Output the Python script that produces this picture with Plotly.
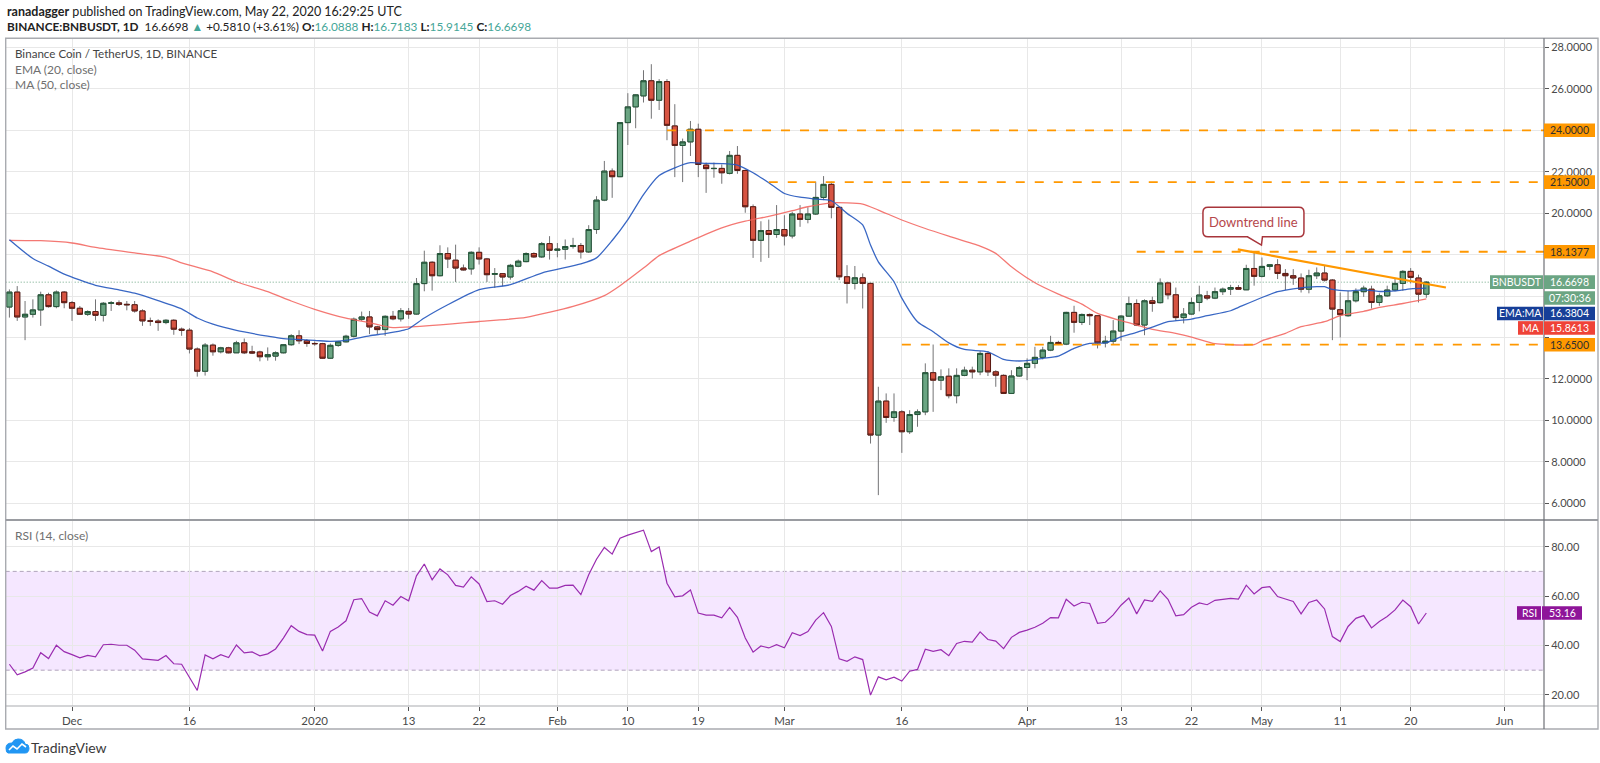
import plotly.graph_objects as go
import pandas as pd

# ---------------- data ----------------
first_day = "2019-11-23"

opens = [15.47, 16.19, 14.99, 15.12, 15.33, 16.06, 15.49, 16.19,
         15.68, 15.41, 15.12, 15.25, 15.07, 15.65, 15.67, 15.60, 15.58, 15.28, 14.80, 14.79, 14.72, 14.83, 14.40, 14.35, 13.44, 12.37, 13.63, 13.31, 13.50, 13.26, 13.74, 13.31, 13.30, 13.07, 13.10, 13.26, 13.65, 14.08, 13.84,
         13.71, 13.70, 13.00, 13.62, 13.79, 14.06, 14.88, 14.99, 14.51, 14.38, 15.02, 14.90, 15.26, 15.13, 16.60, 17.63, 16.98, 18.05, 17.73, 17.35, 17.31, 18.11, 17.79, 17.05, 17.08, 16.92, 17.44, 17.66, 18.05, 17.89, 18.53,
         18.21, 18.26, 18.39, 18.44, 18.13, 19.21, 20.63, 22.03, 21.76, 24.37, 25.13, 25.66, 26.39, 25.45, 26.35, 24.21, 23.27, 23.44, 24.05, 22.32, 22.15, 22.16, 21.92, 22.79, 22.06, 20.31, 18.69, 19.16, 18.97,
         19.21, 18.90, 19.96, 19.70, 19.96, 20.76, 21.39, 20.28, 16.93, 16.61, 16.88, 16.61, 9.29, 10.93, 10.14, 10.41, 9.45, 10.28, 10.41, 12.30, 11.94, 12.13, 11.19, 12.17, 12.42, 12.34, 13.23, 12.34, 12.17, 11.30, 12.14,
         12.55, 12.75, 13.04, 13.39, 13.76, 13.68, 15.21, 14.73, 15.11, 15.05, 13.74, 13.82, 14.31, 15.03, 15.64, 14.60, 15.77, 15.68, 16.63, 16.06, 14.96, 15.13, 15.69, 16.01, 15.90, 16.21, 16.33, 16.41, 16.30, 17.33,
         16.95, 17.43, 17.51, 17.09, 16.98, 16.87, 16.33, 16.98, 17.11, 16.77, 15.34, 15.05, 15.77, 16.21, 16.33, 15.69, 16.01, 16.29, 16.61, 17.19, 16.87, 16.0888]

highs = [16.32, 16.48, 15.76, 15.84, 16.21, 16.16, 16.27, 16.24,
         15.76, 15.52, 15.31, 15.84, 15.71, 15.76, 15.79, 15.76, 15.76, 15.36, 14.96, 14.88, 14.88, 14.88, 14.48, 14.45, 13.52, 13.73, 13.71, 13.55, 13.55, 13.84, 13.95, 13.60, 13.36, 13.52, 13.33, 13.68, 14.16, 14.35, 13.92,
         13.81, 13.74, 13.71, 13.84, 14.13, 14.96, 15.25, 15.28, 14.56, 15.07, 15.28, 15.42, 15.42, 16.87, 18.19, 17.68, 18.45, 18.35, 18.48, 17.52, 18.16, 18.35, 17.84, 17.35, 17.11, 17.55, 17.76, 18.11, 18.11, 18.61, 18.89,
         18.56, 18.73, 18.81, 18.56, 19.42, 20.82, 22.52, 22.16, 24.40, 25.79, 25.74, 26.90, 27.19, 26.47, 26.47, 25.26, 23.60, 24.45, 24.32, 22.44, 22.44, 22.35, 23.00, 23.24, 22.11, 20.42, 19.61, 19.69, 20.39,
         19.90, 20.07, 20.39, 20.28, 21.52, 21.79, 21.52, 20.31, 17.49, 17.45, 17.09, 16.64, 11.62, 11.30, 11.30, 10.49, 10.49, 10.53, 12.75, 13.66, 12.46, 12.51, 12.51, 12.59, 12.59, 13.34, 13.34, 12.42, 12.22, 12.42, 12.62,
         12.99, 13.55, 13.55, 14.08, 13.84, 15.24, 15.53, 15.16, 15.16, 15.08, 14.08, 14.84, 15.08, 15.97, 15.84, 15.84, 15.97, 16.85, 16.69, 16.41, 15.42, 15.93, 16.50, 16.25, 16.41, 16.41, 16.54, 16.53, 17.51, 18.10,
         17.86, 17.54, 17.78, 17.30, 17.30, 17.09, 17.27, 17.38, 17.46, 16.82, 16.17, 16.25, 16.37, 16.50, 16.50, 16.13, 16.50, 16.86, 17.25, 17.35, 17.03, 16.7183]

lows = [14.96, 14.80, 13.87, 14.96, 14.56, 15.44, 15.41, 15.41,
        14.80, 15.09, 15.04, 14.80, 14.77, 15.28, 15.52, 15.31, 15.20, 14.56, 14.56, 14.32, 14.64, 14.13, 14.08, 13.23, 12.11, 12.16, 13.12, 13.23, 13.23, 13.25, 13.20, 13.20, 12.85, 12.88, 12.88, 13.23, 13.60, 13.68, 13.55,
        13.60, 12.96, 12.96, 13.55, 13.76, 14.00, 14.80, 14.16, 14.16, 14.08, 14.83, 14.77, 14.90, 15.10, 16.23, 16.26, 16.95, 17.35, 16.68, 17.23, 17.03, 17.52, 16.68, 16.39, 16.47, 16.79, 17.39, 17.63, 17.84, 17.84, 17.76,
        17.87, 17.76, 18.29, 17.81, 18.08, 19.00, 20.58, 20.74, 21.74, 23.29, 24.10, 25.34, 24.56, 24.98, 23.52, 21.74, 21.50, 22.76, 21.74, 20.98, 21.71, 21.42, 21.87, 21.90, 20.02, 17.84, 17.65, 17.84, 18.81,
        18.44, 18.78, 19.34, 19.51, 19.91, 20.63, 19.75, 16.77, 15.64, 16.32, 15.40, 8.88, 6.39, 9.88, 9.93, 8.43, 9.34, 9.69, 10.25, 10.41, 11.46, 11.06, 10.82, 12.13, 12.02, 12.18, 12.14, 11.62, 11.27, 11.27, 12.10,
        11.94, 12.51, 12.94, 13.34, 13.63, 13.63, 14.23, 14.60, 14.60, 13.47, 13.52, 13.68, 13.84, 15.00, 14.55, 14.11, 15.24, 15.64, 15.84, 14.81, 14.68, 15.10, 15.26, 15.80, 15.85, 16.05, 16.05, 16.29, 16.29, 16.50,
        16.90, 17.25, 16.82, 16.29, 16.54, 16.17, 16.13, 16.82, 16.70, 13.87, 14.00, 15.00, 15.69, 15.96, 15.40, 15.53, 15.96, 16.22, 16.25, 16.61, 15.69, 15.9145]

closes = [16.19, 14.99, 15.12, 15.33, 16.06, 15.49, 16.19, 15.68,
          15.41, 15.12, 15.25, 15.07, 15.65, 15.67, 15.60, 15.58, 15.28, 14.80, 14.79, 14.72, 14.83, 14.40, 14.35, 13.44, 12.37, 13.63, 13.31, 13.50, 13.26, 13.74, 13.26, 13.25, 13.07, 13.17, 13.26, 13.65, 14.08, 13.84, 13.71,
          13.70, 13.00, 13.62, 13.79, 14.06, 14.88, 14.99, 14.51, 14.38, 15.02, 14.90, 15.29, 15.13, 16.60, 17.63, 16.98, 18.05, 17.79, 17.35, 17.26, 18.11, 17.79, 17.03, 17.08, 16.92, 17.48, 17.68, 18.05, 17.89, 18.53, 18.21,
          18.26, 18.39, 18.44, 18.13, 19.21, 20.63, 22.03, 21.76, 24.37, 25.13, 25.71, 26.39, 25.45, 26.35, 24.24, 23.27, 23.44, 24.05, 22.35, 22.15, 22.16, 21.95, 22.79, 22.06, 20.31, 18.69, 19.16, 18.97, 19.21,
          18.90, 19.96, 19.70, 19.96, 20.76, 21.39, 20.28, 16.93, 16.61, 16.88, 16.61, 9.29, 10.93, 10.14, 10.41, 9.45, 10.28, 10.41, 12.30, 11.94, 12.10, 11.19, 12.17, 12.42, 12.34, 13.23, 12.34, 12.18, 11.30, 12.14, 12.55,
          12.75, 13.04, 13.39, 13.76, 13.68, 15.21, 14.73, 15.11, 15.05, 13.74, 13.82, 14.31, 15.03, 15.64, 14.60, 15.77, 15.64, 16.63, 16.06, 14.96, 15.13, 15.69, 16.05, 15.90, 16.21, 16.33, 16.41, 16.33, 17.33, 16.95,
          17.43, 17.51, 17.09, 16.98, 16.87, 16.33, 16.98, 17.11, 16.77, 15.37, 15.10, 15.77, 16.21, 16.38, 15.69, 16.01, 16.29, 16.61, 17.19, 16.90, 16.09, 16.6698]

rsi_values = [32.4, 28.1, 29.3, 30.9, 37.1, 34.7, 40.1, 37.5,
              36.3, 35.0, 36.0, 35.4, 40.3, 40.5, 40.1, 40.1, 38.1, 34.6, 34.3, 34.0, 35.9, 32.6, 32.4, 26.9, 21.8, 36.2, 34.6, 36.3, 35.1, 40.2, 37.0, 37.4, 35.8, 36.6, 38.6, 43.0, 48.0, 45.7, 44.4,
              44.2, 37.8, 45.7, 47.5, 50.0, 58.5, 59.0, 53.5, 52.0, 58.1, 56.3, 59.8, 58.1, 68.2, 73.0, 66.6, 71.0, 68.6, 64.3, 63.6, 67.8, 64.9, 57.8, 58.1, 56.7, 60.2, 61.9, 64.0, 62.4, 66.3, 63.2,
              63.2, 64.3, 64.4, 60.6, 68.6, 74.9, 79.7, 77.0, 83.4, 84.7, 85.6, 86.7, 78.0, 79.9, 65.2, 59.7, 60.1, 62.5, 53.1, 52.3, 52.3, 51.2, 55.4, 51.4, 43.0, 37.3, 39.8, 39.0, 40.3,
              39.1, 45.2, 44.0, 45.6, 50.3, 53.3, 47.7, 34.6, 33.6, 35.4, 34.3, 19.9, 27.3, 26.1, 27.2, 25.6, 29.6, 30.3, 38.5, 37.6, 38.3, 35.9, 40.8, 41.7, 41.4, 45.5, 42.4, 41.8, 38.7, 43.3, 45.3,
              46.2, 47.4, 49.0, 51.3, 51.2, 58.7, 56.0, 57.5, 57.0, 49.0, 49.4, 52.4, 56.3, 59.2, 52.8, 58.4, 57.9, 62.1, 58.7, 52.0, 52.5, 55.5, 57.2, 56.5, 58.3, 58.8, 59.1, 58.8, 64.4, 60.9,
              63.4, 63.8, 59.8, 58.8, 57.8, 52.8, 57.4, 58.4, 54.8, 43.6, 41.6, 47.7, 51.0, 52.1, 47.1, 49.7, 51.7, 54.4, 58.4, 55.7, 48.7, 53.16]

ema_dates = ["2019-11-23", "2019-11-26", "2019-11-28", "2019-11-30", "2019-12-04", "2019-12-07", "2019-12-09",
             "2019-12-12", "2019-12-15", "2019-12-17", "2019-12-19", "2019-12-22", "2019-12-26", "2019-12-28",
             "2020-01-01", "2020-01-03", "2020-01-05", "2020-01-08", "2020-01-10", "2020-01-12", "2020-01-13",
             "2020-01-15", "2020-01-18", "2020-01-22", "2020-01-26", "2020-01-30", "2020-02-04", "2020-02-06",
             "2020-02-08", "2020-02-10", "2020-02-12", "2020-02-14", "2020-02-16", "2020-02-18", "2020-02-20",
             "2020-02-22", "2020-02-24", "2020-02-26", "2020-02-28", "2020-03-01", "2020-03-03", "2020-03-05",
             "2020-03-07", "2020-03-09", "2020-03-11", "2020-03-12", "2020-03-13", "2020-03-15", "2020-03-16",
             "2020-03-18", "2020-03-20", "2020-03-22", "2020-03-24", "2020-03-27", "2020-03-29", "2020-03-30",
             "2020-04-01", "2020-04-03", "2020-04-05", "2020-04-07", "2020-04-09", "2020-04-11", "2020-04-13",
             "2020-04-15", "2020-04-17", "2020-04-19", "2020-04-22", "2020-04-24", "2020-04-27", "2020-04-28",
             "2020-05-01", "2020-05-03", "2020-05-05", "2020-05-08", "2020-05-09", "2020-05-10", "2020-05-12",
             "2020-05-14", "2020-05-16", "2020-05-18", "2020-05-20", "2020-05-22"]
ema_values = [18.72, 17.81, 17.44, 17.06, 16.52, 16.30, 16.14,
              15.78, 15.38, 14.94, 14.64, 14.34, 14.06, 13.94,
              13.86, 13.81, 13.86, 14.08, 14.19, 14.32, 14.42,
              14.94, 15.58, 16.31, 16.55, 17.11, 17.55, 17.84,
              18.68, 19.69, 20.90, 21.82, 22.19, 22.44, 22.40,
              22.39, 22.32, 21.95, 21.47, 20.95, 20.77, 20.68,
              20.60, 19.99, 19.43, 18.46, 17.65, 16.69, 15.90,
              14.76, 14.28, 13.74, 13.42, 13.31, 12.94, 12.88,
              12.88, 12.99, 13.10, 13.47, 13.71, 13.74, 14.03,
              14.25, 14.50, 14.76, 14.89, 15.05, 15.29, 15.45,
              15.93, 16.21, 16.35, 16.45, 16.45, 16.32, 16.25,
              16.30, 16.22, 16.25, 16.35, 16.38]

ma_dates = ["2019-11-23", "2019-11-27", "2019-12-01", "2019-12-04", "2019-12-09", "2019-12-13", "2019-12-15",
            "2019-12-19", "2019-12-22", "2019-12-26", "2019-12-29", "2020-01-01", "2020-01-05", "2020-01-08",
            "2020-01-11", "2020-01-22", "2020-01-28", "2020-02-03", "2020-02-07", "2020-02-09", "2020-02-12",
            "2020-02-14", "2020-02-18", "2020-02-22", "2020-02-25", "2020-02-28", "2020-03-02", "2020-03-04",
            "2020-03-07", "2020-03-11", "2020-03-13", "2020-03-16", "2020-03-19", "2020-03-22", "2020-03-26",
            "2020-03-28", "2020-03-30", "2020-04-02", "2020-04-05", "2020-04-08", "2020-04-10", "2020-04-13",
            "2020-04-15", "2020-04-17", "2020-04-20", "2020-04-22", "2020-04-25", "2020-04-27", "2020-04-30",
            "2020-05-01", "2020-05-04", "2020-05-06", "2020-05-09", "2020-05-11", "2020-05-14", "2020-05-16",
            "2020-05-19", "2020-05-22"]
ma_values = [18.69, 18.67, 18.56, 18.35, 18.08, 17.87, 17.60,
             17.17, 16.69, 16.21, 15.76, 15.36, 14.93, 14.72,
             14.48, 14.77, 14.97, 15.50, 16.02, 16.50, 17.35,
             17.95, 18.65, 19.29, 19.61, 19.85, 20.12, 20.31,
             20.50, 20.44, 20.15, 19.67, 19.26, 18.89, 18.41,
             18.06, 17.41, 16.64, 16.09, 15.61, 15.16, 14.81,
             14.60, 14.39, 14.20, 14.02, 13.70, 13.65, 13.65,
             13.84, 14.20, 14.52, 14.76, 15.05, 15.26, 15.45,
             15.64, 15.86]

tick_dates = ["2019-12-01", "2019-12-16", "2020-01-01", "2020-01-13", "2020-01-22", "2020-02-01", "2020-02-10",
              "2020-02-19", "2020-03-01", "2020-03-16", "2020-04-01", "2020-04-13", "2020-04-22", "2020-05-01",
              "2020-05-11", "2020-05-20", "2020-06-01"]
tick_labels = ["Dec", "16", "2020", "13", "22", "Feb", "10", "19", "Mar", "16", "Apr", "13", "22", "May",
               "11", "20", "Jun"]
price_ticks = [6, 8, 10, 12, 14, 16, 18, 20, 22, 24, 26, 28]
hidden_price_ticks = [14, 16, 18, 24]   # covered by the price-scale labels in the reference
rsi_ticks = [20, 40, 60, 80]

level_prices = [24.0, 21.5, 18.1377, 13.65]
level_starts = ["2020-02-15", "2020-02-28", "2020-04-15", "2020-03-16"]

trend_dates = ["2020-04-27 22:00", "2020-05-24 12:00"]
trend_prices = [18.25, 16.41]

last_price = 16.6698
last_ema = 16.3804
last_ma = 15.8613
last_rsi = 53.16
countdown = "07:30:36"

# ---------------- layout helpers ----------------
W, H = 1600, 763
def px(x):
    return x / W
def py(y):
    return 1 - y / H

X_RANGE = ["2019-11-22 12:40", "2020-06-06 00:45"]
X_DOM = [px(5.7), px(1544)]
MAIN_DOM = [py(520), py(38.3)]
RSI_DOM = [py(706), py(520)]
FONT = "Lato, Noto Sans, sans-serif"
GRID = "#e8e8e8"
TXT = "#4a4a4a"

UP_FILL, UP_LINE = "#6ba583", "#225437"
DN_FILL, DN_LINE = "#d75442", "#5b1a13"
WICK = "#737375"
ORANGE = "#ff9800"

dates = pd.date_range(first_day, periods=len(closes), freq="D")
body_hi = [max(o, c) for o, c in zip(opens, closes)]
body_lo = [min(o, c) for o, c in zip(opens, closes)]
price_ticktext = ["" if t in hidden_price_ticks else f"{t:.4f}" for t in price_ticks]

fig = go.Figure()

# wicks
fig.add_trace(go.Candlestick(
    x=dates, open=opens, high=highs, low=lows, close=closes,
    increasing=dict(line=dict(color=WICK, width=1), fillcolor=WICK),
    decreasing=dict(line=dict(color=WICK, width=1), fillcolor=WICK),
    whiskerwidth=0, hoverinfo="skip", showlegend=False, xaxis="x", yaxis="y"))
# bodies
fig.add_trace(go.Candlestick(
    x=dates, open=opens, high=body_hi, low=body_lo, close=closes,
    increasing=dict(line=dict(color=UP_LINE, width=1), fillcolor=UP_FILL),
    decreasing=dict(line=dict(color=DN_LINE, width=1), fillcolor=DN_FILL),
    whiskerwidth=0, hoverinfo="skip", showlegend=False, xaxis="x", yaxis="y"))

fig.add_trace(go.Scatter(x=ma_dates, y=ma_values, mode="lines",
                         line=dict(color="rgba(242,96,90,0.85)", width=1.3, shape="spline", smoothing=0.6),
                         hoverinfo="skip", showlegend=False, xaxis="x", yaxis="y"))
fig.add_trace(go.Scatter(x=ema_dates, y=ema_values, mode="lines",
                         line=dict(color="rgba(36,86,190,0.9)", width=1.3, shape="spline", smoothing=0.6),
                         hoverinfo="skip", showlegend=False, xaxis="x", yaxis="y"))
fig.add_trace(go.Scatter(x=trend_dates, y=trend_prices, mode="lines",
                         line=dict(color=ORANGE, width=2.2),
                         hoverinfo="skip", showlegend=False, xaxis="x", yaxis="y"))

fig.add_trace(go.Scatter(x=dates, y=rsi_values, mode="lines",
                         line=dict(color="#9a2cb0", width=1.2),
                         hoverinfo="skip", showlegend=False, xaxis="x2", yaxis="y2"))

shapes = []
# RSI band and levels
shapes.append(dict(type="rect", xref="x2", yref="y2", x0=X_RANGE[0], x1=X_RANGE[1], y0=30, y1=70,
                   fillcolor="rgba(153,21,255,0.10)", line=dict(width=0), layer="below"))
for lv in (70, 30):
    shapes.append(dict(type="line", xref="x2", yref="y2", x0=X_RANGE[0], x1=X_RANGE[1], y0=lv, y1=lv,
                       line=dict(color="#b0a4bb", width=1, dash="4px,3px"), layer="below"))
# last price dotted line
shapes.append(dict(type="line", xref="x", yref="y", x0=X_RANGE[0], x1=X_RANGE[1], y0=last_price, y1=last_price,
                   line=dict(color=UP_FILL, width=1, dash="1px,2px"), layer="below"))
# horizontal support / resistance levels
for lvp, lvs in zip(level_prices, level_starts):
    shapes.append(dict(type="line", xref="x", yref="y", x0=lvs, x1=X_RANGE[1], y0=lvp, y1=lvp,
                       line=dict(color=ORANGE, width=1.8, dash="9px,10px"), layer="above"))
# frame and separators
FRAME = "#a9abb0"
shapes.append(dict(type="rect", xref="paper", yref="paper", x0=px(5.7), x1=px(1598), y0=py(729), y1=py(38.3),
                   line=dict(color=FRAME, width=1.4), fillcolor="rgba(0,0,0,0)", layer="above"))
shapes.append(dict(type="line", xref="paper", yref="paper", x0=px(5.7), x1=px(1598), y0=py(520), y1=py(520),
                   line=dict(color="#9a9ca1", width=1.8), layer="above"))
shapes.append(dict(type="line", xref="paper", yref="paper", x0=px(5.7), x1=px(1598), y0=py(706), y1=py(706),
                   line=dict(color=FRAME, width=1.2), layer="above"))
shapes.append(dict(type="line", xref="paper", yref="paper", x0=px(1544), x1=px(1544), y0=py(729), y1=py(38.3),
                   line=dict(color="#6e7076", width=1.2), layer="above"))

# callout "Downtrend line"
callout_x = "2020-04-29 22:00"
callout_y = 19.57
callout_path = ("M -45.5,14.7 L 45.5,14.7 Q 50.5,14.7 50.5,9.7 L 50.5,-9.7 Q 50.5,-14.7 45.5,-14.7 "
                "L 9,-14.7 L 8,-23 L -6,-14.7 L -45.5,-14.7 Q -50.5,-14.7 -50.5,-9.7 L -50.5,9.7 "
                "Q -50.5,14.7 -45.5,14.7 Z")
shapes.append(dict(type="path", xref="x", yref="y", xsizemode="pixel", ysizemode="pixel",
                   xanchor=callout_x, yanchor=callout_y, path=callout_path,
                   line=dict(color="#a8353b", width=1.5), fillcolor="white", layer="above"))

# TradingView logo (simple cloud)
logo_path = ("M -9,-6 L 8,-6 Q 12,-6 12,-1 Q 12,3 8,3 Q 7,8 1,8 Q -3,8 -5,4 Q -11,4 -11,-1 "
             "Q -11,-6 -9,-6 Z")
shapes.append(dict(type="path", xref="paper", yref="paper", xsizemode="pixel", ysizemode="pixel",
                   xanchor=px(17), yanchor=py(747), path=logo_path,
                   line=dict(color="#2196f3", width=1), fillcolor="#2196f3", layer="above"))
shapes.append(dict(type="path", xref="paper", yref="paper", xsizemode="pixel", ysizemode="pixel",
                   xanchor=px(17), yanchor=py(747), path="M -8,-3 L -4,1 L 0,-2 L 5,3 L 9,0",
                   line=dict(color="white", width=1.6), layer="above"))

annotations = []
def label_box(text, y, yref, bg, color="white", x0=1544, x1=1595):
    shapes.append(dict(type="rect", xref="paper", yref=yref, ysizemode="pixel", yanchor=y,
                       x0=px(x0), x1=px(x1), y0=-6.8, y1=6.8, fillcolor=bg, line=dict(width=0),
                       layer="above"))
    annotations.append(dict(text=text, xref="paper", x=px((x0 + x1) / 2), xanchor="center", yref=yref, y=y,
                            yanchor="middle", showarrow=False, borderpad=0,
                            font=dict(family=FONT, size=10.5, color=color)))

for lvp in level_prices:
    label_box(f"{lvp:.4f}", lvp, "y", ORANGE, color="#2f2f2f")
label_box(f"{last_price:.4f}", last_price, "y", UP_FILL)
label_box("BNBUSDT", last_price, "y", UP_FILL, x0=1490, x1=1543)
label_box(countdown, 15.905, "y", UP_FILL)
label_box(f"{last_ema:.4f}", 15.16, "y", "#173f98")
label_box("EMA:MA", 15.16, "y", "#173f98", x0=1497, x1=1543)
label_box(f"{last_ma:.4f}", 14.46, "y", "#ef4338")
label_box("MA", 14.46, "y", "#ef4338", x0=1518, x1=1543)
label_box(f"{last_rsi:.2f}", last_rsi, "y2", "#8e1599", x0=1542, x1=1582)
label_box("RSI", last_rsi, "y2", "#8e1599", x0=1517, x1=1541)

annotations.append(dict(text="Downtrend line", xref="x", yref="y", x=callout_x, y=callout_y,
                        showarrow=False, font=dict(family=FONT, size=13, color="#b5474b"),
                        xanchor="center", yanchor="middle"))

TEAL = "#45a698"
def tv(v):
    return f"<span style='color:{TEAL}'>{v}</span>"
annotations.append(dict(text="<b>ranadagger</b> published on TradingView.com, May 22, 2020 16:29:25 UTC",
                        xref="paper", yref="paper", x=px(5), y=py(11.7), xanchor="left", yanchor="middle",
                        showarrow=False, font=dict(family=FONT, size=12.5, color="#222222")))
annotations.append(dict(text=("<b>BINANCE:BNBUSDT, 1D</b>  16.6698 " + tv("▲") + " +0.5810 (+3.61%) "
                              "<b>O:</b>" + tv("16.0888") + " <b>H:</b>" + tv("16.7183") +
                              " <b>L:</b>" + tv("15.9145") + " <b>C:</b>" + tv("16.6698")),
                        xref="paper", yref="paper", x=px(5), y=py(26.3), xanchor="left", yanchor="middle",
                        showarrow=False, font=dict(family=FONT, size=11.8, color="#222222")))
annotations.append(dict(text="Binance Coin / TetherUS, 1D, BINANCE", xref="paper", yref="paper",
                        x=px(12.5), y=py(54), xanchor="left", yanchor="middle", showarrow=False,
                        font=dict(family=FONT, size=11.6, color="#444444")))
annotations.append(dict(text="EMA (20, close)", xref="paper", yref="paper",
                        x=px(12.5), y=py(69.5), xanchor="left", yanchor="middle", showarrow=False,
                        font=dict(family=FONT, size=12, color="#6f6f6f")))
annotations.append(dict(text="MA (50, close)", xref="paper", yref="paper",
                        x=px(12.5), y=py(84), xanchor="left", yanchor="middle", showarrow=False,
                        font=dict(family=FONT, size=12, color="#6f6f6f")))
annotations.append(dict(text="RSI (14, close)", xref="paper", yref="paper",
                        x=px(12.5), y=py(535.5), xanchor="left", yanchor="middle", showarrow=False,
                        font=dict(family=FONT, size=12, color="#6f6f6f")))
annotations.append(dict(text="TradingView", xref="paper", yref="paper",
                        x=px(29), y=py(747), xanchor="left", yanchor="middle", showarrow=False,
                        font=dict(family=FONT, size=14, color="#3a3a3a")))

axis_common = dict(showgrid=True, gridcolor=GRID, gridwidth=1, zeroline=False, showline=False)

fig.update_layout(
    width=W, height=H,
    margin=dict(l=0, r=0, t=0, b=0, autoexpand=False),
    paper_bgcolor="white", plot_bgcolor="white",
    hovermode=False, showlegend=False, boxgap=0.34, boxgroupgap=0,
    font=dict(family=FONT, size=11, color=TXT),
    xaxis=dict(domain=X_DOM, anchor="y", range=X_RANGE, type="date",
               tickvals=tick_dates, ticktext=tick_labels, showticklabels=False, ticks="",
               rangeslider=dict(visible=False), **axis_common),
    xaxis2=dict(domain=X_DOM, anchor="y2", range=X_RANGE, type="date",
                tickvals=tick_dates, ticktext=tick_labels, showticklabels=True,
                ticks="outside", ticklen=4, tickcolor="#555555",
                tickfont=dict(family=FONT, size=11.5, color=TXT),
                rangeslider=dict(visible=False), **axis_common),
    yaxis=dict(domain=MAIN_DOM, anchor="x", side="right", range=[5.19, 28.44],
               tickvals=price_ticks, ticktext=price_ticktext, ticks="outside", ticklen=4, tickcolor="#555555",
               tickfont=dict(family=FONT, size=11, color=TXT), **axis_common),
    yaxis2=dict(domain=RSI_DOM, anchor="x2", side="right", range=[15.5, 90.8],
                tickvals=rsi_ticks, tickformat=".2f", ticks="outside", ticklen=4, tickcolor="#555555",
                tickfont=dict(family=FONT, size=11, color=TXT), **axis_common),
    shapes=shapes, annotations=annotations,
)

fig.write_html("out.html", config={"displayModeBar": False},
               post_script="document.body.style.margin='0';document.body.style.overflow='hidden';")
